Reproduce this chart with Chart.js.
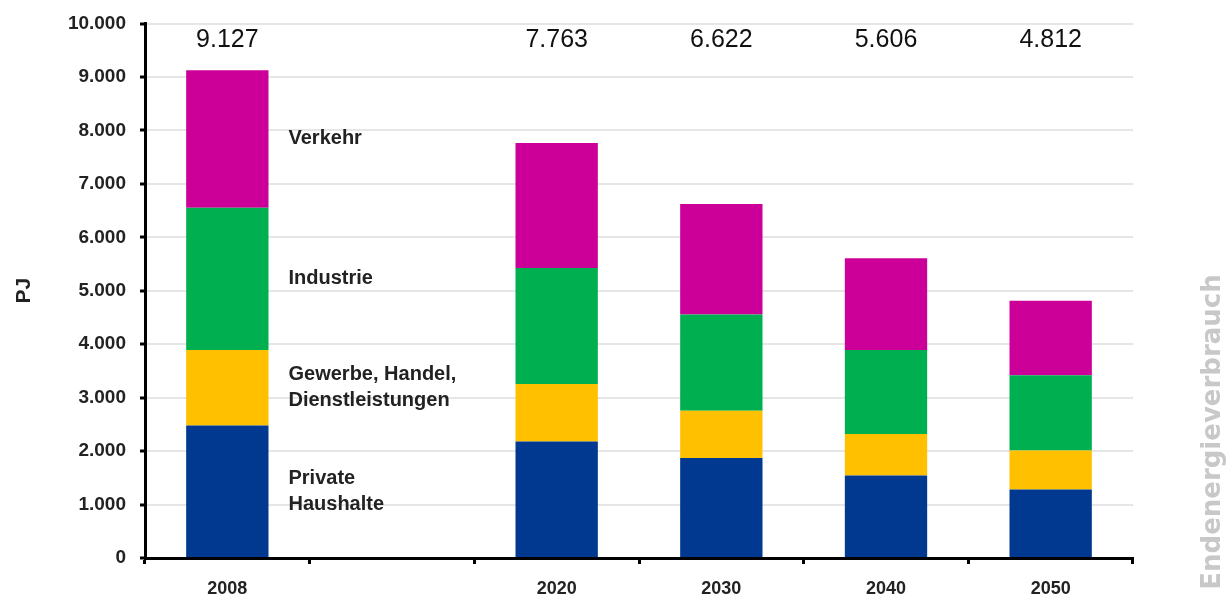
<!DOCTYPE html>
<html>
<head>
<meta charset="utf-8">
<script src="https://cdn.jsdelivr.net/npm/chart.js@4"></script>
<style>
    html, body { margin: 0; padding: 0; background: #fff; }
    #wrap { width: 1231px; height: 599px; }
</style>
</head>
<body>
<div id="wrap"><canvas id="energyChart"></canvas></div>
<script>
// Categories (one empty slot between 2008 and 2020)
var years = ["2008", "", "2020", "2030", "2040", "2050"];

// Series values in PJ
var privateHaushalte = [2480, null, 2180, 1870, 1545, 1280];
var gewerbe = [1410, null, 1075, 885, 775, 730];
var industrie = [2665, null, 2170, 1800, 1570, 1410];
var verkehr = [2572, null, 2338, 2067, 1716, 1392];

// Totals printed above the bars
var totals = [9127, null, 7763, 6622, 5606, 4812];

// Names drawn beside the 2008 bar
var seriesNames = ["Private Haushalte", "Gewerbe, Handel, Dienstleistungen", "Industrie", "Verkehr"];
var seriesLabelLines = [["Private", "Haushalte"], ["Gewerbe, Handel,", "Dienstleistungen"], ["Industrie"], ["Verkehr"]];
var seriesColors = ["#00398f", "#ffc000", "#00b050", "#cc0099"];

var yMin = 0;
var yMax = 10000;
var yStep = 1000;

var fontFamily = "'Liberation Sans', Arial, sans-serif";

function formatDe(v) {
    return String(v).replace(/\B(?=(\d{3})+(?!\d))/g, ".");
}

var labelPlugin = {
    id: "labelPlugin",
    afterDatasetsDraw: function (chart) {
        var ctx = chart.ctx;
        var area = chart.chartArea;
        ctx.save();

        // totals at the top of the plot
        var meta0 = chart.getDatasetMeta(0);
        ctx.font = "25px " + fontFamily;
        ctx.fillStyle = "#111";
        ctx.textAlign = "center";
        ctx.textBaseline = "middle";
        totals.forEach(function (t, i) {
            if (t === null) return;
            ctx.fillText(formatDe(t), meta0.data[i].x, area.top + 17);
        });

        // series names next to the first bar
        ctx.font = "bold 20px " + fontFamily;
        ctx.fillStyle = "#222";
        ctx.textAlign = "left";
        chart.data.datasets.forEach(function (ds, d) {
            var bar = chart.getDatasetMeta(d).data[0];
            var lines = seriesLabelLines[d];
            var midY = (bar.y + bar.base) / 2;
            lines.forEach(function (line, k) {
                ctx.fillText(line, bar.x + bar.width / 2 + 20, midY + (k - (lines.length - 1) / 2) * 26);
            });
        });

        // caption on the right edge
        ctx.font = "bold 26px 'DejaVu Sans', sans-serif";
        ctx.fillStyle = "#c8c8c8";
        ctx.translate(1213, 432);
        ctx.rotate(-Math.PI / 2);
        ctx.textAlign = "center";
        ctx.fillText("Endenergieverbrauch", 0, 0);
        ctx.restore();
    }
};

var datasets = [privateHaushalte, gewerbe, industrie, verkehr].map(function (values, i) {
    return {
        label: seriesNames[i],
        data: values,
        backgroundColor: seriesColors[i],
        borderWidth: 0,
        barPercentage: 1,
        categoryPercentage: 0.5
    };
});

var ctxBar = document.getElementById("energyChart").getContext("2d");
var energyChart = new Chart(ctxBar, {
    type: "bar",
    data: { labels: years, datasets: datasets },
    options: {
        responsive: true,
        maintainAspectRatio: false,
        animation: false,
        layout: { padding: { top: 21, right: 98, bottom: 0, left: 0 } },
        plugins: {
            legend: { display: false },
            tooltip: { enabled: false }
        },
        scales: {
            x: {
                stacked: true,
                afterFit: function (scale) { scale.height = 41; },
                grid: {
                    offset: true,
                    drawOnChartArea: false,
                    tickLength: 6,
                    tickColor: "#000",
                    tickWidth: 3
                },
                border: { color: "#000", width: 3 },
                ticks: {
                    padding: 14,
                    color: "#222",
                    font: { family: fontFamily, size: 18, weight: "bold" }
                }
            },
            y: {
                stacked: true,
                min: yMin,
                max: yMax,
                afterFit: function (scale) { scale.width = 145; },
                grid: {
                    color: "#e6e6e6",
                    lineWidth: 2,
                    tickLength: 5,
                    tickColor: "#000",
                    tickWidth: 3
                },
                border: { color: "#000", width: 3 },
                ticks: {
                    stepSize: yStep,
                    padding: 14,
                    color: "#222",
                    font: { family: fontFamily, size: 19, weight: "bold", lineHeight: 1 },
                    callback: function (v) { return formatDe(v); }
                },
                title: {
                    display: true,
                    text: "PJ",
                    color: "#222",
                    padding: { top: 12, bottom: 0 },
                    font: { family: fontFamily, size: 21, weight: "bold" }
                }
            }
        }
    },
    plugins: [labelPlugin]
});
</script>
</body>
</html>
